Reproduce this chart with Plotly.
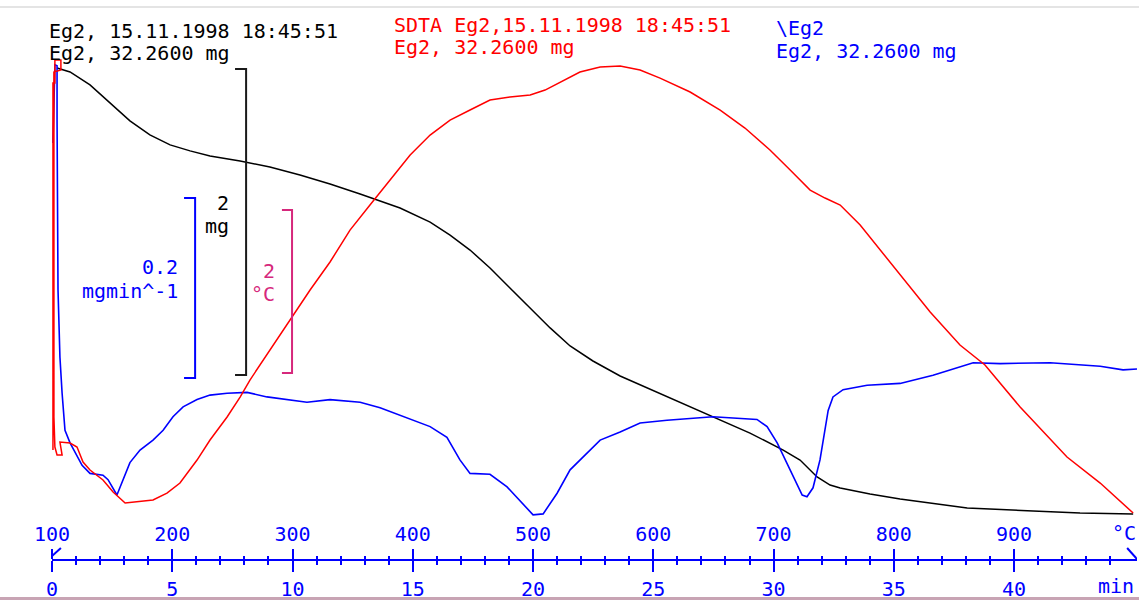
import plotly.graph_objects as go

# ---------------- data ----------------
# TG (black): time in min, mass in mg
tg_time = [0.21, 0.75, 1.58, 2.41, 3.24, 4.07, 4.91, 5.74, 6.57, 7.82, 9.06, 10.31, 11.56,
           12.81, 14.47, 15.72, 16.55, 17.38, 18.21, 19.04, 19.88, 20.71, 21.54, 22.49,
           23.62, 25.16, 26.11, 27.36, 29.02, 30.40, 31.10, 31.81, 32.35, 32.77, 34.01,
           35.26, 38.05, 40.79, 42.74, 44.95]
tg_mass = [32.260, 32.234, 32.149, 32.031, 31.914, 31.822, 31.757, 31.718, 31.685, 31.652,
           31.613, 31.561, 31.502, 31.436, 31.345, 31.253, 31.168, 31.070, 30.953, 30.822,
           30.691, 30.561, 30.443, 30.345, 30.247, 30.142, 30.077, 29.992, 29.874, 29.763,
           29.698, 29.587, 29.534, 29.515, 29.476, 29.443, 29.384, 29.365, 29.352, 29.345]

# DTG (blue): time in min, rate in mg/min
dtg_time = [0.04, 0.12, 0.21, 0.21, 0.25, 0.33, 0.42, 0.54, 0.75, 1.04, 1.25, 1.58, 2.12,
            2.33, 2.70, 3.24, 3.66, 4.20, 4.62, 5.03, 5.45, 6.03, 6.57, 7.28, 8.11, 8.94,
            9.77, 10.60, 11.56, 12.81, 13.64, 14.59, 15.72, 16.42, 16.96, 17.38, 18.21,
            18.92, 19.46, 20.00, 20.42, 21.00, 21.54, 22.25, 22.79, 23.62, 24.45, 25.57,
            26.82, 27.48, 29.31, 29.73, 30.15, 30.69, 31.19, 31.39, 31.64, 31.93, 32.27,
            32.47, 32.89, 33.89, 35.26, 36.63, 38.30, 39.42, 41.50, 43.58, 44.53, 45.11]
dtg_rate = [0.241, 0.328, 0.327, 0.267, 0.078, 0.003, -0.037, -0.078, -0.092, -0.106,
            -0.117, -0.126, -0.128, -0.133, -0.150, -0.114, -0.100, -0.089, -0.078, -0.063,
            -0.052, -0.044, -0.039, -0.037, -0.036, -0.041, -0.044, -0.047, -0.044, -0.047,
            -0.053, -0.063, -0.074, -0.086, -0.111, -0.126, -0.127, -0.141, -0.156, -0.172,
            -0.171, -0.148, -0.122, -0.103, -0.089, -0.080, -0.070, -0.067, -0.064, -0.063,
            -0.066, -0.074, -0.092, -0.122, -0.150, -0.152, -0.142, -0.111, -0.056, -0.041,
            -0.033, -0.028, -0.026, -0.017, -0.003, -0.004, -0.003, -0.007, -0.011, -0.010]

# SDTA (red): time in min, signal in degC
sdta_time = [0.04, 0.04, 0.12, 0.12, 0.37, 0.37, 0.08, 0.08, 0.12, 0.21, 0.42, 0.33, 0.75,
             1.04, 1.29, 1.58, 2.12, 2.54, 3.04, 3.53, 4.20, 4.78, 5.32, 6.03, 6.57, 7.28,
             7.82, 8.23, 9.06, 9.98, 10.73, 11.56, 12.39, 13.22, 14.05, 14.89, 15.72, 16.55,
             17.38, 18.21, 19.04, 19.88, 20.50, 21.12, 21.95, 22.79, 23.62, 24.45, 25.28,
             26.53, 27.78, 28.81, 29.85, 30.69, 31.52, 32.14, 32.77, 33.60, 34.43, 35.26,
             36.51, 37.75, 38.79, 40.25, 42.20, 43.58, 44.95]
sdta_val = [0.773, 5.276, 5.276, 5.558, 5.558, 5.436, 5.411, 1.178, 0.810, 0.712, 0.712,
            0.871, 0.859, 0.810, 0.626, 0.528, 0.405, 0.258, 0.123, 0.135, 0.160, 0.245,
            0.368, 0.650, 0.896, 1.178, 1.423, 1.632, 2.000, 2.393, 2.736, 3.080, 3.472,
            3.779, 4.086, 4.393, 4.638, 4.822, 4.945, 5.067, 5.104, 5.129, 5.190, 5.288,
            5.411, 5.472, 5.485, 5.436, 5.337, 5.166, 4.945, 4.724, 4.454, 4.209, 3.963,
            3.865, 3.779, 3.534, 3.227, 2.920, 2.466, 2.061, 1.816, 1.301, 0.687, 0.368,
            0.000]

# axis ticks
major_min = [0, 5, 10, 15, 20, 25, 30, 35, 40]
minor_min = [m for m in range(0, 45) if m % 5 != 0]
time_labels = ["0", "5", "10", "15", "20", "25", "30", "35", "40"]
temp_labels = ["100", "200", "300", "400", "500", "600", "700", "800", "900"]

# header texts
hdr_black = ["Eg2, 15.11.1998 18:45:51", "Eg2, 32.2600 mg"]
hdr_red = ["SDTA Eg2,15.11.1998 18:45:51", "Eg2, 32.2600 mg"]
hdr_blue = ["\\Eg2", "Eg2, 32.2600 mg"]

# scale bars: (x position in min, top value, length)
tg_bar = (8.07, 32.253, 2.0)
dtg_bar = (5.95, 0.18, 0.2)
sdta_bar = (9.98, 3.718, 2.0)

# ---------------- style ----------------
W, H = 1139, 600
FONT = "DejaVu Sans Mono"
BLUE = "#0000ff"
RED = "#ff0000"
BLACK = "#000000"
PINK = "#d6287c"
FS = 20

def px(x):
    return x / W

def py(y):
    return 1 - y / H

fig = go.Figure()
fig.add_trace(go.Scatter(x=tg_time, y=tg_mass, mode="lines", yaxis="y",
                         line=dict(color=BLACK, width=1.5)))
fig.add_trace(go.Scatter(x=sdta_time, y=sdta_val, mode="lines", yaxis="y3",
                         line=dict(color=RED, width=1.5)))
fig.add_trace(go.Scatter(x=dtg_time, y=dtg_rate, mode="lines", yaxis="y2",
                         line=dict(color=BLUE, width=1.6)))

x_end = 45.11
ydom = [41 / H, 1]

fig.update_layout(
    width=W, height=H, margin=dict(l=0, r=0, t=0, b=0, autoexpand=False),
    paper_bgcolor="white", plot_bgcolor="white", showlegend=False,
    font=dict(family=FONT, size=FS),
    xaxis=dict(domain=[52 / W, 1137 / W], range=[0, x_end], showgrid=False, zeroline=False,
               showline=True, linecolor=BLUE, linewidth=2, automargin=False,
               tickmode="array", tickvals=major_min, ticktext=time_labels,
               ticks="outside", ticklen=11, tickwidth=2, tickcolor=BLUE,
               tickfont=dict(family=FONT, size=FS, color=BLUE),
               minor=dict(tickmode="array", tickvals=minor_min, ticks="outside",
                          ticklen=4, tickwidth=2, tickcolor=BLUE),
               anchor="y"),
    xaxis2=dict(matches="x", overlaying="x", side="top", anchor="free", position=41 / H,
                showgrid=False, zeroline=False, showline=False, automargin=False,
                tickmode="array", tickvals=major_min, ticktext=temp_labels,
                ticks="outside", ticklen=10, tickwidth=2, tickcolor=BLUE,
                tickfont=dict(family=FONT, size=FS, color=BLUE),
                minor=dict(tickmode="array", tickvals=minor_min, ticks="outside",
                           ticklen=3, tickwidth=2, tickcolor=BLUE)),
    yaxis=dict(domain=ydom, range=[29.051, 32.704], visible=False, automargin=False),
    yaxis2=dict(overlaying="y", range=[-0.2211, 0.4], visible=False, automargin=False),
    yaxis3=dict(overlaying="y", range=[-0.564, 6.295], visible=False, automargin=False),
)
# dummy trace to activate xaxis2
fig.add_trace(go.Scatter(x=[0], y=[None], xaxis="x2", yaxis="y", showlegend=False,
                         hoverinfo="skip"))

shapes = []
def bracket(bar, yref, color, tick):
    x, top, length = bar
    bot = top - length
    return dict(type="path", xref="x", yref=yref,
                path=f"M {x - tick},{top} L {x},{top} L {x},{bot} L {x - tick},{bot}",
                line=dict(color=color, width=2))

shapes.append(bracket(tg_bar, "y", "#1a1a1a", 0.46))
shapes.append(bracket(dtg_bar, "y2", BLUE, 0.46))
shapes.append(bracket(sdta_bar, "y3", PINK, 0.42))
# axis end decorations
shapes.append(dict(type="line", xref="x", yref="paper", x0=0, x1=0.37,
                   y0=py(556), y1=py(548), line=dict(color=BLUE, width=2)))
shapes.append(dict(type="line", xref="x", yref="paper", x0=44.7, x1=x_end,
                   y0=py(548), y1=py(559), line=dict(color=BLUE, width=2)))
# window borders
shapes.append(dict(type="line", xref="paper", yref="paper", x0=0, x1=1,
                   y0=py(7), y1=py(7), line=dict(color="#e4e4e4", width=2)))
shapes.append(dict(type="line", xref="paper", yref="paper", x0=0, x1=1,
                   y0=py(598.5), y1=py(598.5), line=dict(color="#c8a4b4", width=3)))
fig.update_layout(shapes=shapes)

ann = []
def text(t, x, y, color, anchor="left"):
    ann.append(dict(text=t, x=px(x), y=py(y), xref="paper", yref="paper",
                    xanchor=anchor, yanchor="middle", showarrow=False,
                    font=dict(family=FONT, size=FS, color=color), borderpad=0))

text(hdr_black[0], 48, 31, BLACK)
text(hdr_black[1], 48, 53, BLACK)
text(hdr_red[0], 393, 25, RED)
text(hdr_red[1], 393, 47, RED)
text(hdr_blue[0], 775, 28, BLUE)
text(hdr_blue[1], 775, 51, BLUE)

text("2", 230, 203, BLACK, "right")
text("mg", 230, 226, BLACK, "right")
text("0.2", 179, 267, BLUE, "right")
text("mgmin^-1", 179, 291, BLUE, "right")
text("2", 276, 271, PINK, "right")
text("°C", 276, 294, PINK, "right")
text("°C", 1137, 533, BLUE, "right")
text("min", 1135, 586, BLUE, "right")
fig.update_layout(annotations=ann)

fig.write_html("out.html", config={"displayModeBar": False},
               post_script="document.body.style.margin='0';document.body.style.overflow='hidden';")
